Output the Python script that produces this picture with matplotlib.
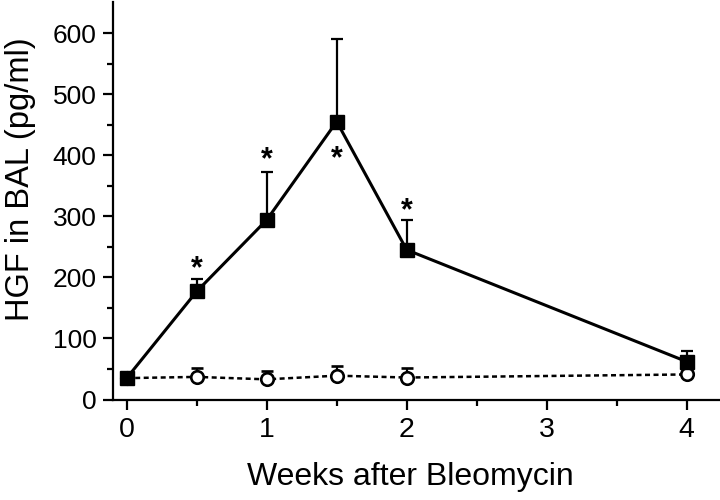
import matplotlib
matplotlib.use("Agg")
import matplotlib.pyplot as plt

plt.rcParams["font.family"] = ["Liberation Sans", "DejaVu Sans"]

# Data
weeks = [0, 0.5, 1, 1.5, 2, 4]
bleo_mean = [35, 177, 294, 455, 245, 62]
bleo_upper = [35, 198, 373, 591, 294, 79]
ctrl_mean = [35, 37, 33, 39, 36, 41]
ctrl_upper = [35, 51, 47, 55, 51, 41]
star_x = [0.5, 1, 1.5, 2]
star_y = [228, 406, 407, 322]

x_major = [0, 1, 2, 3, 4]
x_minor = [0.5, 1.5, 2.5, 3.5]
y_major = [0, 100, 200, 300, 400, 500, 600]
y_minor = [50, 150, 250, 350, 450, 550]

fig = plt.figure(figsize=(7.2, 5), dpi=100)
ax = fig.add_axes([112.7 / 720, 100.5 / 500, (719 - 112.7) / 720, 397 / 500])

ctrl_err = [[0] * len(ctrl_mean), [u - m for u, m in zip(ctrl_upper, ctrl_mean)]]
bleo_err = [[0] * len(bleo_mean), [u - m for u, m in zip(bleo_upper, bleo_mean)]]

ax.errorbar(weeks, ctrl_mean, yerr=ctrl_err, color="black", lw=1.8,
            linestyle=(0, (2.0, 1.4)), marker="o", markersize=9,
            markerfacecolor="white", markeredgecolor="black", markeredgewidth=1.9,
            ecolor="black", elinewidth=1.6, capsize=4.5, capthick=1.6, zorder=3)
ax.errorbar(weeks, bleo_mean, yerr=bleo_err, color="black", lw=2.2,
            marker="s", markersize=9.5, markerfacecolor="black",
            markeredgecolor="black", ecolor="black", elinewidth=1.6,
            capsize=4.5, capthick=1.6, zorder=4)

for sx, sy in zip(star_x, star_y):
    ax.annotate("*", (sx, sy), xytext=(0, -12), textcoords="offset points",
                ha="center", va="baseline", fontsize=22, fontweight="bold")

ax.set_xlim(-0.1, (719 - 126.7) / 140)
ax.set_ylim(0, 650)
ax.set_xticks(x_major)
ax.set_xticks(x_minor, minor=True)
ax.set_yticks(y_major)
ax.set_yticks(y_minor, minor=True)
ax.set_xticklabels([str(v) for v in x_major], fontsize=20.5)
ax.set_yticklabels([str(v) for v in y_major], fontsize=19)

for s in ["top", "right"]:
    ax.spines[s].set_visible(False)
for s in ["left", "bottom"]:
    ax.spines[s].set_linewidth(1.6)

ax.tick_params(axis="both", which="major", length=7.5, width=1.6, direction="out")
ax.tick_params(axis="both", which="minor", length=4, width=1.6, direction="out")
ax.tick_params(axis="x", which="major", pad=5)
ax.tick_params(axis="y", which="major", pad=4)

fig.text(410 / 720, 1 - 485 / 500, "Weeks after Bleomycin", ha="center",
         va="baseline", fontsize=23)
fig.text(21 / 720, 1 - 179 / 500, "HGF in BAL (pg/ml)", ha="center",
         va="center", rotation=90, fontsize=23.5)

fig.savefig("out.png", dpi=100)
